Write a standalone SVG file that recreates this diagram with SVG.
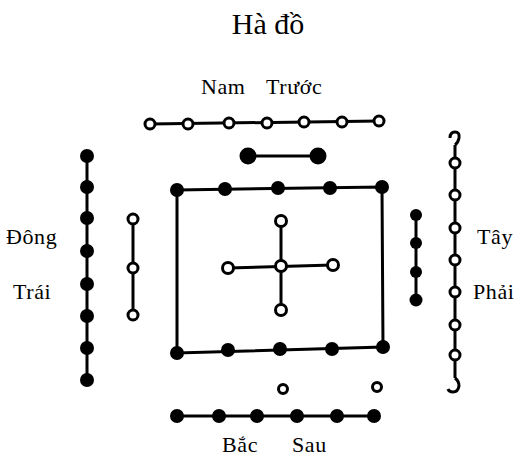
<svg xmlns="http://www.w3.org/2000/svg" width="518" height="467" viewBox="0 0 518 467">
<style>
.t{font-family:"Liberation Serif",serif;font-size:22px;fill:#000;letter-spacing:0.6px}
.ln{stroke:#000;stroke-width:3;fill:none}
.o{fill:#fff;stroke:#000;stroke-width:3}
.s{fill:#000}
</style>
<rect width="518" height="467" fill="#fff"/>
<text class="t" x="268" y="34" text-anchor="middle" style="font-size:30px;letter-spacing:0">Hà đồ</text>
<g id="labels">
<text class="t" x="201" y="94">Nam</text>
<text class="t" x="266" y="94">Trước</text>
<text class="t" x="6" y="244">Đông</text>
<text class="t" x="13" y="299">Trái</text>
<text class="t" x="477" y="244">Tây</text>
<text class="t" x="473" y="299">Phải</text>
<text class="t" x="222" y="452">Bắc</text>
<text class="t" x="292" y="452">Sau</text>
</g>
<g id="connectors">
<line class="ln" x1="150" y1="124" x2="379" y2="121"/>
<line class="ln" x1="248" y1="156" x2="318" y2="156"/>
<line class="ln" x1="87" y1="156" x2="87" y2="380"/>
<line class="ln" x1="133" y1="219" x2="133" y2="315"/>
<line class="ln" x1="416" y1="215" x2="416" y2="300"/>
<line class="ln" x1="455" y1="145" x2="455" y2="378"/>
<polygon class="ln" points="177,190 382,187 383,347 177,353"/>
<line class="ln" stroke-width="2.5" x1="281" y1="221" x2="281" y2="310"/>
<line class="ln" stroke-width="2.5" x1="228" y1="268" x2="333" y2="265"/>
<line class="ln" x1="177" y1="416" x2="374" y2="416"/>
<path class="ln" d="M450,138 q0,-6 5,-6 q5,0 4,6 q-1,5 -4,7"/>
<path class="ln" d="M455,378 q4,3 4,8 q-1,6 -6,6 q-4,0 -5,-3"/>
</g>
<g id="top-open">
<circle class="o" cx="150" cy="124" r="5"/>
<circle class="o" cx="188" cy="124" r="5"/>
<circle class="o" cx="229" cy="123" r="5"/>
<circle class="o" cx="267" cy="123" r="5"/>
<circle class="o" cx="304" cy="122" r="5"/>
<circle class="o" cx="342" cy="122" r="5"/>
<circle class="o" cx="379" cy="121" r="5"/>
</g>
<g id="top-solid">
<circle class="s" cx="248" cy="156" r="8.5"/>
<circle class="s" cx="318" cy="156" r="8.5"/>
</g>
<g id="left-solid">
<circle class="s" cx="87" cy="156" r="7"/>
<circle class="s" cx="87" cy="187" r="7"/>
<circle class="s" cx="87" cy="218" r="7"/>
<circle class="s" cx="87" cy="251" r="7"/>
<circle class="s" cx="87" cy="284" r="7"/>
<circle class="s" cx="87" cy="316" r="7"/>
<circle class="s" cx="87" cy="348" r="7"/>
<circle class="s" cx="87" cy="380" r="7"/>
</g>
<g id="left-open">
<circle class="o" cx="133" cy="219" r="5"/>
<circle class="o" cx="133" cy="268" r="5"/>
<circle class="o" cx="133" cy="315" r="5"/>
</g>
<g id="right-solid">
<circle class="s" cx="416" cy="215" r="6"/>
<circle class="s" cx="416" cy="243" r="6"/>
<circle class="s" cx="416" cy="272" r="6"/>
<circle class="s" cx="416" cy="300" r="6.5"/>
</g>
<g id="right-open">
<circle class="o" cx="455" cy="163" r="5"/>
<circle class="o" cx="455" cy="195" r="5"/>
<circle class="o" cx="455" cy="228" r="5"/>
<circle class="o" cx="455" cy="260" r="5"/>
<circle class="o" cx="455" cy="292" r="5"/>
<circle class="o" cx="455" cy="325" r="5"/>
<circle class="o" cx="455" cy="355" r="5"/>
</g>
<g id="square">
<circle class="s" cx="177" cy="190" r="7"/>
<circle class="s" cx="225" cy="189" r="7"/>
<circle class="s" cx="278" cy="188" r="7"/>
<circle class="s" cx="330" cy="188" r="7"/>
<circle class="s" cx="382" cy="187" r="7"/>
<circle class="s" cx="177" cy="353" r="7"/>
<circle class="s" cx="228" cy="350" r="7"/>
<circle class="s" cx="280" cy="349" r="7"/>
<circle class="s" cx="332" cy="349" r="7"/>
<circle class="s" cx="383" cy="347" r="7"/>
</g>
<g id="center">
<circle class="o" cx="281" cy="221" r="5.5"/>
<circle class="o" cx="281" cy="266" r="5.5"/>
<circle class="o" cx="281" cy="310" r="5.5"/>
<circle class="o" cx="228" cy="268" r="5.5"/>
<circle class="o" cx="333" cy="265" r="5.5"/>
</g>
<g id="bottom-open">
<circle class="o" cx="283" cy="389" r="4.5"/>
<circle class="o" cx="377" cy="387" r="4.5"/>
</g>
<g id="bottom-solid">
<circle class="s" cx="177" cy="416" r="7"/>
<circle class="s" cx="219" cy="416" r="7"/>
<circle class="s" cx="257" cy="416" r="7"/>
<circle class="s" cx="297" cy="416" r="7"/>
<circle class="s" cx="337" cy="416" r="7"/>
<circle class="s" cx="374" cy="416" r="7"/>
</g>
</svg>
